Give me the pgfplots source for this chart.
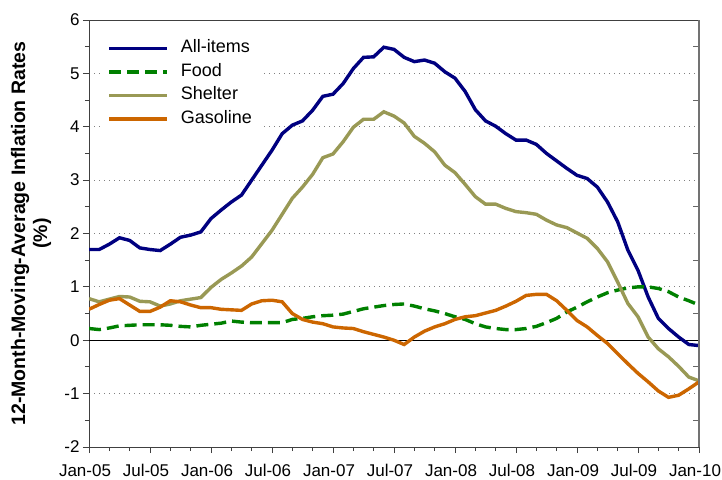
\documentclass[border=0pt]{standalone}
\usepackage{pgfplots}
\pgfplotsset{compat=1.18}
\usepackage{pgfplotstable}
\usepackage{fontspec}
\setmainfont{Liberation Sans}
\definecolor{allc}{RGB}{0,0,128}
\definecolor{foodc}{RGB}{0,128,0}
\definecolor{shelc}{RGB}{153,153,85}
\definecolor{gasc}{RGB}{204,102,0}

\pgfplotstableread{
m all food shelter gas
0 1.70 0.22 0.78 0.58
1 1.70 0.20 0.72 0.67
2 1.80 0.23 0.77 0.75
3 1.92 0.27 0.82 0.78
4 1.87 0.28 0.81 0.66
5 1.73 0.29 0.73 0.54
6 1.70 0.29 0.72 0.54
7 1.68 0.29 0.64 0.62
8 1.80 0.28 0.68 0.74
9 1.93 0.26 0.74 0.72
10 1.97 0.25 0.77 0.66
11 2.03 0.28 0.80 0.61
12 2.28 0.30 0.99 0.61
13 2.44 0.32 1.14 0.58
14 2.59 0.36 1.26 0.57
15 2.72 0.34 1.39 0.56
16 3.00 0.33 1.56 0.68
17 3.28 0.33 1.81 0.74
18 3.56 0.33 2.06 0.75
19 3.87 0.33 2.36 0.72
20 4.03 0.39 2.66 0.50
21 4.11 0.41 2.87 0.39
22 4.31 0.44 3.11 0.34
23 4.57 0.46 3.42 0.31
24 4.61 0.47 3.49 0.25
25 4.81 0.49 3.72 0.23
26 5.09 0.54 3.99 0.22
27 5.30 0.59 4.14 0.16
28 5.31 0.62 4.14 0.11
29 5.49 0.65 4.28 0.06
30 5.45 0.67 4.20 0.00
31 5.30 0.68 4.07 -0.08
32 5.22 0.64 3.82 0.06
33 5.25 0.59 3.69 0.17
34 5.19 0.55 3.53 0.25
35 5.03 0.50 3.28 0.31
36 4.91 0.44 3.14 0.39
37 4.66 0.39 2.92 0.44
38 4.32 0.31 2.69 0.46
39 4.11 0.25 2.55 0.51
40 4.01 0.22 2.55 0.56
41 3.87 0.20 2.47 0.64
42 3.75 0.20 2.41 0.73
43 3.75 0.22 2.39 0.84
44 3.67 0.26 2.36 0.86
45 3.50 0.33 2.25 0.86
46 3.36 0.41 2.16 0.74
47 3.22 0.53 2.11 0.56
48 3.09 0.62 2.01 0.37
49 3.03 0.72 1.91 0.25
50 2.87 0.81 1.72 0.09
51 2.59 0.89 1.47 -0.06
52 2.22 0.94 1.09 -0.25
53 1.69 0.98 0.69 -0.44
54 1.31 1.00 0.44 -0.62
55 0.81 1.00 0.06 -0.78
56 0.41 0.97 -0.16 -0.95
57 0.22 0.91 -0.31 -1.07
58 0.06 0.81 -0.49 -1.03
59 -0.08 0.74 -0.69 -0.91
60 -0.10 0.66 -0.76 -0.78
}\datatable

\begin{document}
\begin{tikzpicture}
\path[use as bounding box] (0,0) rectangle (722pt,479pt);
\begin{axis}[
  at={(89pt,32pt)}, anchor=south west,
  scale only axis, width=610pt, height=427pt,
  xmin=0, xmax=60, ymin=-2, ymax=6,
  xtick={0,6,...,60},
  xticklabels={Jan-05,Jul-05,Jan-06,Jul-06,Jan-07,Jul-07,Jan-08,Jul-08,Jan-09,Jul-09,Jan-10},
  minor x tick num=2,
  ytick={-2,-1,...,6},
  yticklabels={-2,-1,0,1,2,3,4,5,6},
  minor y tick num=1,
  xtick pos=bottom, ytick pos=left,
  tick align=outside,
  major tick length=6pt, minor tick length=4pt,
  tick style={black!75, line width=0.9pt},
  tick label style={font=\fontsize{17}{19}\selectfont},
  xticklabel style={xshift=-4pt, yshift=-8pt},
  axis line style={black!75, line width=1pt},
  ymajorgrids,
  major grid style={gray, line width=0.9pt, dash pattern=on 1pt off 4pt},
  extra y ticks={0},
  extra y tick labels={},
  extra y tick style={grid=major, major grid style={solid, black, line width=1pt}},
  ylabel={12-Month-Moving-Average Inflation Rates\\(\%)},
  ylabel style={at={(axis description cs:-0.095,0.5)}, anchor=center, align=center, font=\bfseries\fontsize{19.5}{22}\selectfont},
  legend cell align=left,
  legend image code/.code={\draw[#1] (0pt,0pt) -- (58pt,0pt);},
  legend style={draw=none, fill=white, at={(axis description cs:0.017,0.971)}, anchor=north west,
    font=\fontsize{18}{20}\selectfont, inner xsep=8pt, inner ysep=4pt,
    nodes={text height=13pt, text depth=4.5pt, inner sep=3pt},
    /tikz/every odd column/.append style={column sep=9pt}},
]
\addplot[allc, line width=3.4pt] table[x=m, y=all] {\datatable};
\addlegendentry{All-items}
\addplot[foodc, line width=3.4pt, dash pattern=on 12pt off 6pt] table[x=m, y=food] {\datatable};
\addlegendentry{Food}
\addplot[shelc, line width=3.4pt] table[x=m, y=shelter] {\datatable};
\addlegendentry{Shelter}
\addplot[gasc, line width=3.4pt] table[x=m, y=gas] {\datatable};
\addlegendentry{Gasoline}
\end{axis}
\begin{axis}[
  at={(89pt,32pt)}, anchor=south west,
  scale only axis, width=610pt, height=427pt,
  xmin=0, xmax=60, ymin=-2, ymax=6,
  axis x line=none, axis y line*=right,
  ytick={-1.5,-0.5,...,5.5}, yticklabels={},
  tick align=inside, major tick length=6pt,
  tick style={black!60, line width=0.9pt},
  axis line style={black!55, line width=2pt},
]
\end{axis}
\end{tikzpicture}
\end{document}
